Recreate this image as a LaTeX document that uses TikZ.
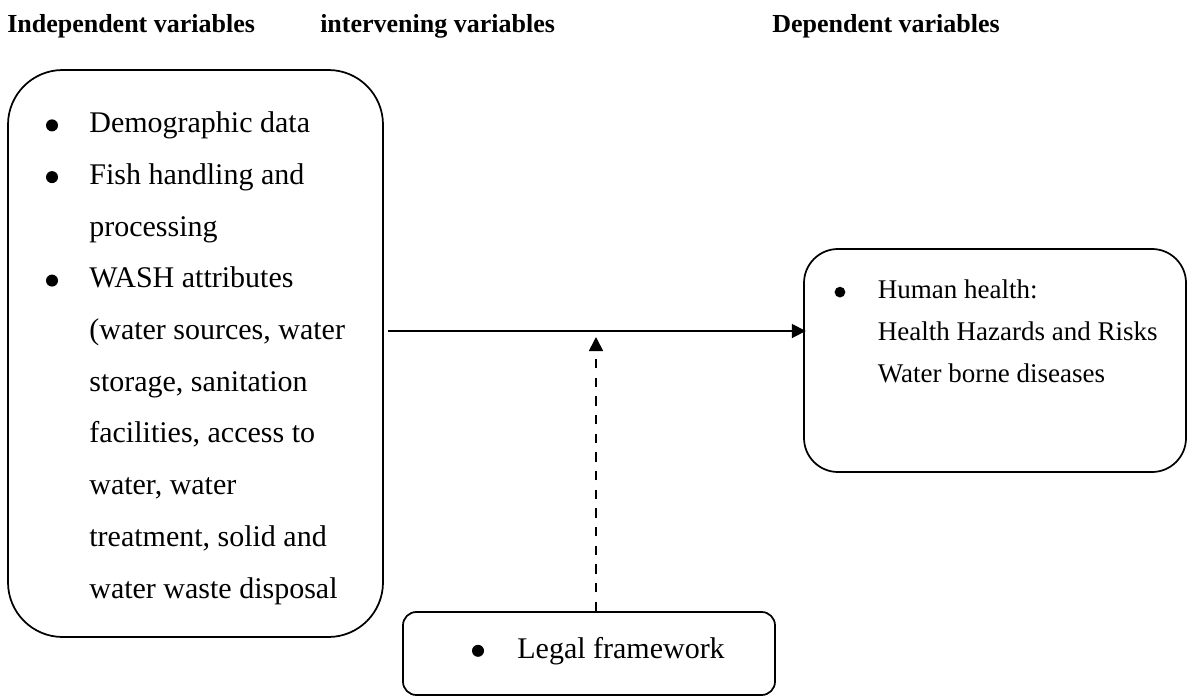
\documentclass[tikz,border=0pt]{standalone}
\usepackage{fontspec}
\setmainfont{Liberation Serif}
\usetikzlibrary{arrows.meta}
\newcommand{\dotmark}{\tikz[baseline=0pt]\fill (0,0.24em) circle[radius=0.2em];}
\newcommand{\itm}{\makebox[32.5pt][l]{\dotmark}}
\newcommand{\ind}{\hspace*{32.5pt}}
\begin{document}
\begin{tikzpicture}[x=0.75pt, y=-0.75pt,
	varbox/.style={draw, line width=1.3pt, inner sep=0pt},
	heading/.style={anchor=base west, inner sep=0pt, font=\fontsize{19.5}{23}\selectfont\bfseries},
	itemtext/.style={anchor=north west, inner sep=0pt, align=left},
	flow/.style={line width=1.3pt, -{Triangle[length=10.5pt, width=10.5pt]}}]
		\useasboundingbox (0,0) rectangle (1188,696);
		\node (head1) [heading] at (7,32) {Independent variables};
		\node (head2) [heading] at (320,32) {intervening variables};
		\node (head3) [heading] at (772,32) {Dependent variables};

		\node (indep) [varbox, rounded corners=41pt, minimum width=281.25pt, minimum height=425.25pt] at (195.5,353.5) {};
		\node (health) [varbox, rounded corners=25.5pt, minimum width=286.5pt, minimum height=167.25pt] at (995,360.5) {};
		\node (legal) [varbox, rounded corners=10pt, minimum width=279pt, minimum height=62.25pt] at (589,653.5) {};

		\node (indeptxt) [itemtext, font=\fontsize{22.5}{38.8}\selectfont] at (45.75,111.5) {\itm Demographic data\\ \itm Fish handling and\\ \ind processing\\ \itm WASH attributes\\ \ind (water sources, water\\ \ind storage, sanitation\\ \ind facilities, access to\\ \ind water, water\\ \ind treatment, solid and\\ \ind water waste disposal};
		\node (healthtxt) [itemtext, font=\fontsize{20.25}{31.5}\selectfont] at (834.3,279.6) {\itm Human health:\\ \ind Health Hazards and Risks\\ \ind Water borne diseases};
		\node (legaltxt) [anchor=base west, inner sep=0pt, font=\fontsize{22.5}{27}\selectfont] at (471.75,658) {\makebox[34pt][l]{\dotmark}Legal framework};

		% Arrows
		\coordinate (join) at (596,331);
		\draw[flow, shorten <=3pt, shorten >=-2pt] (indep.east |- join) -- (health.west |- join);
		\draw[flow, dash pattern=on 7pt off 7pt] (legal.north -| join) -- ([yshift=-4.5pt]join);
	\end{tikzpicture}
\end{document}
